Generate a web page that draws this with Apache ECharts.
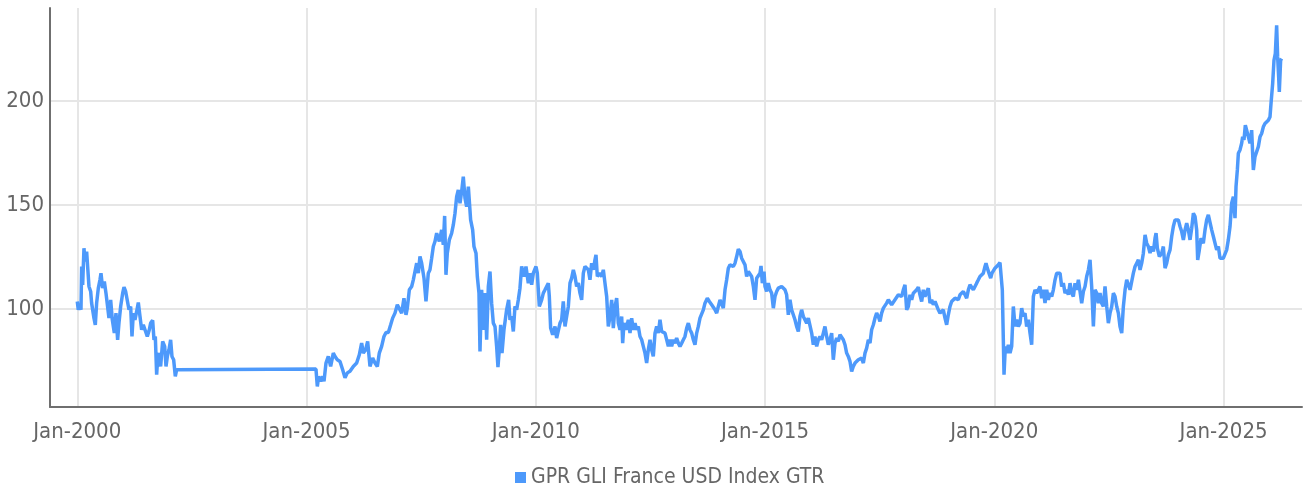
<!DOCTYPE html>
<html>
<head>
<meta charset="utf-8">
<script src="https://cdn.jsdelivr.net/npm/echarts@6/dist/echarts.min.js"></script>
<style>
  html, body { margin: 0; padding: 0; background: #fff; }
  #chart { width: 1304px; height: 493px; }
</style>
</head>
<body>
<div id="chart"></div>
<script>
// 数据：日期用小数年表示，数值为指数点位
const seriesName = 'GPR GLI France USD Index GTR'
const yearTicks = [2000, 2005, 2010, 2015, 2020, 2025]
const valueTicks = [100, 150, 200]

const dates = [
  2000.000, 2000.022, 2000.059, 2000.081, 2000.095, 2000.117, 2000.146, 2000.168, 2000.204, 2000.241,
  2000.255, 2000.292, 2000.313, 2000.364, 2000.393, 2000.422, 2000.459, 2000.495, 2000.517, 2000.553,
  2000.590, 2000.626, 2000.655, 2000.691, 2000.728, 2000.764, 2000.808, 2000.844, 2000.880, 2000.909,
  2000.946, 2000.990, 2001.019, 2001.055, 2001.091, 2001.128, 2001.164, 2001.193, 2001.222, 2001.258,
  2001.295, 2001.331, 2001.368, 2001.404, 2001.440, 2001.477, 2001.527, 2001.571, 2001.600, 2001.644,
  2001.673, 2001.702, 2001.731, 2001.760, 2001.789, 2001.818, 2001.862, 2001.906, 2001.935, 2001.964,
  2002.000, 2002.036, 2002.065, 2002.102, 2002.138, 2002.167, 2002.203, 2005.206, 2005.235, 2005.264,
  2005.308, 2005.352, 2005.381, 2005.424, 2005.475, 2005.526, 2005.584, 2005.621, 2005.671, 2005.730,
  2005.788, 2005.839, 2005.889, 2005.948, 2006.020, 2006.093, 2006.151, 2006.202, 2006.238, 2006.289,
  2006.333, 2006.384, 2006.442, 2006.493, 2006.544, 2006.587, 2006.638, 2006.689, 2006.733, 2006.784,
  2006.835, 2006.878, 2006.929, 2006.980, 2007.023, 2007.075, 2007.125, 2007.169, 2007.198, 2007.242,
  2007.293, 2007.329, 2007.365, 2007.402, 2007.438, 2007.474, 2007.511, 2007.562, 2007.605, 2007.656,
  2007.692, 2007.729, 2007.765, 2007.801, 2007.838, 2007.896, 2007.947, 2007.983, 2008.012, 2008.041,
  2008.070, 2008.114, 2008.165, 2008.201, 2008.238, 2008.274, 2008.310, 2008.347, 2008.383, 2008.419,
  2008.456, 2008.492, 2008.529, 2008.550, 2008.579, 2008.623, 2008.652, 2008.696, 2008.725, 2008.761,
  2008.783, 2008.819, 2008.841, 2008.870, 2008.899, 2008.928, 2008.965, 2009.001, 2009.037, 2009.074,
  2009.110, 2009.146, 2009.175, 2009.204, 2009.234, 2009.263, 2009.306, 2009.364, 2009.408, 2009.437,
  2009.474, 2009.510, 2009.546, 2009.583, 2009.619, 2009.655, 2009.692, 2009.743, 2009.786, 2009.837,
  2009.873, 2009.910, 2009.946, 2010.004, 2010.033, 2010.077, 2010.128, 2010.164, 2010.201, 2010.237,
  2010.273, 2010.295, 2010.324, 2010.368, 2010.419, 2010.455, 2010.491, 2010.528, 2010.564, 2010.600,
  2010.637, 2010.673, 2010.710, 2010.746, 2010.782, 2010.819, 2010.855, 2010.891, 2010.928, 2010.964,
  2011.000, 2011.037, 2011.073, 2011.109, 2011.146, 2011.182, 2011.218, 2011.255, 2011.291, 2011.313,
  2011.342, 2011.386, 2011.437, 2011.473, 2011.509, 2011.546, 2011.582, 2011.619, 2011.655, 2011.691,
  2011.728, 2011.764, 2011.800, 2011.837, 2011.873, 2011.895, 2011.924, 2011.967, 2012.018, 2012.055,
  2012.091, 2012.127, 2012.164, 2012.200, 2012.236, 2012.273, 2012.309, 2012.345, 2012.382, 2012.418,
  2012.454, 2012.491, 2012.527, 2012.563, 2012.600, 2012.636, 2012.673, 2012.709, 2012.745, 2012.782,
  2012.818, 2012.854, 2012.891, 2012.927, 2012.963, 2013.000, 2013.036, 2013.072, 2013.109, 2013.145,
  2013.182, 2013.218, 2013.254, 2013.291, 2013.327, 2013.363, 2013.400, 2013.436, 2013.472, 2013.509,
  2013.545, 2013.581, 2013.618, 2013.654, 2013.690, 2013.741, 2013.785, 2013.836, 2013.872, 2013.909,
  2013.945, 2013.981, 2014.018, 2014.054, 2014.090, 2014.127, 2014.163, 2014.199, 2014.236, 2014.272,
  2014.308, 2014.345, 2014.381, 2014.417, 2014.454, 2014.490, 2014.527, 2014.563, 2014.599, 2014.635,
  2014.672, 2014.708, 2014.745, 2014.781, 2014.817, 2014.854, 2014.890, 2014.912, 2014.941, 2014.977,
  2014.999, 2015.035, 2015.071, 2015.108, 2015.144, 2015.181, 2015.217, 2015.253, 2015.290, 2015.326,
  2015.362, 2015.399, 2015.435, 2015.471, 2015.508, 2015.544, 2015.580, 2015.617, 2015.653, 2015.689,
  2015.726, 2015.762, 2015.798, 2015.835, 2015.871, 2015.908, 2015.944, 2015.980, 2016.017, 2016.053,
  2016.089, 2016.126, 2016.162, 2016.198, 2016.235, 2016.271, 2016.307, 2016.344, 2016.380, 2016.417,
  2016.453, 2016.489, 2016.526, 2016.562, 2016.598, 2016.635, 2016.671, 2016.707, 2016.744, 2016.780,
  2016.816, 2016.853, 2016.889, 2016.925, 2016.962, 2016.998, 2017.034, 2017.071, 2017.107, 2017.144,
  2017.180, 2017.216, 2017.253, 2017.289, 2017.325, 2017.362, 2017.398, 2017.434, 2017.471, 2017.507,
  2017.543, 2017.580, 2017.616, 2017.652, 2017.689, 2017.725, 2017.761, 2017.798, 2017.834, 2017.871,
  2017.907, 2017.943, 2017.980, 2018.016, 2018.052, 2018.089, 2018.125, 2018.161, 2018.198, 2018.234,
  2018.270, 2018.307, 2018.343, 2018.379, 2018.416, 2018.452, 2018.488, 2018.525, 2018.561, 2018.598,
  2018.634, 2018.670, 2018.707, 2018.743, 2018.779, 2018.816, 2018.852, 2018.888, 2018.925, 2018.961,
  2018.997, 2019.034, 2019.070, 2019.106, 2019.143, 2019.179, 2019.215, 2019.252, 2019.288, 2019.325,
  2019.361, 2019.397, 2019.434, 2019.470, 2019.506, 2019.543, 2019.579, 2019.615, 2019.652, 2019.688,
  2019.724, 2019.761, 2019.797, 2019.819, 2019.848, 2019.884, 2019.921, 2019.950, 2019.979, 2020.015,
  2020.052, 2020.088, 2020.124, 2020.146, 2020.175, 2020.197, 2020.212, 2020.241, 2020.270, 2020.306,
  2020.343, 2020.379, 2020.415, 2020.452, 2020.488, 2020.525, 2020.561, 2020.597, 2020.634, 2020.670,
  2020.706, 2020.743, 2020.779, 2020.815, 2020.852, 2020.888, 2020.925, 2020.961, 2020.997, 2021.034,
  2021.070, 2021.106, 2021.143, 2021.179, 2021.215, 2021.252, 2021.288, 2021.325, 2021.361, 2021.397,
  2021.434, 2021.470, 2021.506, 2021.543, 2021.579, 2021.615, 2021.652, 2021.688, 2021.724, 2021.761,
  2021.797, 2021.834, 2021.870, 2021.906, 2021.943, 2021.979, 2022.015, 2022.052, 2022.088, 2022.124,
  2022.161, 2022.197, 2022.233, 2022.270, 2022.306, 2022.342, 2022.379, 2022.415, 2022.452, 2022.488,
  2022.524, 2022.561, 2022.597, 2022.633, 2022.670, 2022.706, 2022.742, 2022.779, 2022.815, 2022.852,
  2022.888, 2022.924, 2022.961, 2022.997, 2023.033, 2023.070, 2023.106, 2023.142, 2023.179, 2023.215,
  2023.251, 2023.288, 2023.324, 2023.360, 2023.397, 2023.433, 2023.470, 2023.506, 2023.528, 2023.556,
  2023.600, 2023.651, 2023.687, 2023.724, 2023.760, 2023.796, 2023.833, 2023.869, 2023.905, 2023.942,
  2023.978, 2024.014, 2024.051, 2024.087, 2024.124, 2024.160, 2024.196, 2024.233, 2024.269, 2024.305,
  2024.342, 2024.378, 2024.414, 2024.436, 2024.472, 2024.509, 2024.559, 2024.596, 2024.632, 2024.668,
  2024.705, 2024.741, 2024.778, 2024.814, 2024.850, 2024.887, 2024.923, 2024.959, 2024.996, 2025.032,
  2025.068, 2025.104, 2025.141, 2025.177, 2025.214, 2025.250, 2025.272, 2025.301, 2025.323, 2025.359,
  2025.395, 2025.417, 2025.446, 2025.475, 2025.504, 2025.541, 2025.577, 2025.613, 2025.650, 2025.686,
  2025.722, 2025.759, 2025.795, 2025.831, 2025.868, 2025.904, 2025.940, 2025.977, 2026.013, 2026.035,
  2026.071, 2026.100, 2026.129, 2026.158, 2026.180, 2026.202, 2026.216, 2026.245, 2026.267
]

const values = [
  103.7, 99.7, 102.1, 99.7, 120.5, 111.7, 129.3, 122.9, 127.7, 127.7,
  110.9, 108.5, 102.9, 95.7, 92.5, 102.9, 110.1, 114.1, 117.3, 110.1,
  113.3, 107.7, 108.5, 95.7, 104.5, 94.9, 88.5, 98.1, 85.3, 93.3,
  101.3, 107.7, 110.6, 108.5, 109.3, 99.7, 101.3, 86.9, 98.1, 94.9,
  98.9, 103.2, 96.5, 90.1, 92.5, 90.1, 86.9, 90.1, 93.3, 94.6,
  85.3, 86.9, 68.5, 78.9, 77.3, 72.5, 84.5, 82.1, 72.5, 77.3,
  80.5, 85.3, 77.3, 75.7, 67.7, 70.9, 71.2, 71.2, 62.9, 67.7,
  65.3, 67.7, 65.3, 74.1, 77.3, 72.5, 78.9, 77.3, 75.7, 74.9,
  70.9, 67.0, 69.4, 70.2, 72.5, 74.1, 78.1, 83.7, 78.9, 80.5,
  84.5, 72.5, 76.5, 74.1, 72.5, 78.9, 82.1, 86.9, 88.8, 88.8,
  92.5, 95.7, 98.1, 102.1, 101.3, 98.1, 105.3, 97.3, 100.5, 109.3,
  110.9, 114.1, 118.1, 122.1, 117.3, 125.3, 122.1, 114.9, 103.7, 117.3,
  118.9, 124.5, 130.1, 132.5, 136.5, 132.5, 138.1, 130.9, 144.8, 116.5,
  126.9, 133.3, 136.5, 140.5, 146.1, 154.1, 157.3, 150.9, 156.5, 163.7,
  153.3, 149.3, 158.9, 159.7, 142.9, 138.1, 130.1, 126.9, 115.7, 107.7,
  79.7, 109.3, 99.7, 90.1, 107.7, 85.3, 110.9, 118.1, 102.9, 93.3,
  91.7, 82.1, 72.2, 80.5, 92.5, 78.9, 90.1, 99.7, 104.5, 94.9,
  96.5, 89.3, 101.3, 99.7, 104.5, 110.1, 120.5, 115.7, 120.5, 112.5,
  117.3, 111.7, 117.3, 120.5, 117.3, 101.3, 104.5, 107.7, 109.3, 110.9,
  112.5, 106.1, 90.9, 87.7, 91.7, 86.1, 85.3, 93.3, 94.9, 103.7,
  91.7, 96.5, 101.3, 112.5, 114.9, 118.9, 115.7, 110.9, 112.5, 107.7,
  104.5, 117.3, 120.5, 121.3, 118.9, 114.1, 122.1, 118.9, 123.7, 126.1,
  115.7, 117.3, 115.7, 118.9, 112.5, 106.1, 91.7, 96.5, 104.5, 90.9,
  101.3, 105.3, 93.3, 90.1, 96.5, 83.7, 93.3, 90.1, 94.9, 88.5,
  95.7, 90.1, 93.3, 90.1, 91.7, 86.9, 85.3, 82.1, 78.9, 74.1,
  80.5, 85.3, 80.5, 77.3, 88.5, 91.7, 88.5, 94.9, 89.3, 90.1,
  88.5, 89.3, 82.1, 85.3, 82.1, 85.3, 83.7, 86.1, 83.7, 82.1,
  83.7, 85.3, 86.9, 90.9, 93.3, 90.1, 88.5, 85.3, 82.9, 88.5,
  91.7, 95.7, 94.9, 99.7, 102.9, 105.3, 103.7, 102.1, 102.9, 99.7,
  98.1, 101.3, 104.5, 103.7, 100.5, 109.3, 114.1, 119.7, 121.3, 122.1,
  120.5, 122.1, 125.3, 128.8, 127.7, 124.5, 123.7, 121.3, 115.7, 118.1,
  118.9, 115.7, 110.9, 104.5, 114.9, 114.1, 117.3, 120.8, 112.5, 118.1,
  110.9, 108.5, 112.5, 109.3, 107.7, 100.5, 106.1, 108.5, 110.1, 109.3,
  110.9, 110.1, 109.3, 106.9, 97.3, 104.5, 99.7, 100.5, 94.9, 91.7,
  89.3, 96.5, 99.7, 96.5, 95.7, 93.3, 95.7, 94.9, 88.5, 82.9,
  86.9, 82.1, 85.3, 86.9, 85.3, 88.5, 91.7, 86.9, 82.9, 85.3,
  88.5, 75.7, 83.7, 86.1, 84.5, 87.7, 86.9, 85.3, 82.9, 78.9,
  77.3, 74.9, 70.1, 72.5, 74.1, 73.3, 75.7, 74.9, 76.5, 74.1,
  78.9, 81.3, 85.3, 83.7, 90.1, 92.5, 95.7, 98.1, 96.5, 94.1,
  98.1, 100.5, 99.7, 102.9, 104.5, 103.7, 102.1, 102.9, 104.5, 103.7,
  106.9, 107.7, 106.1, 109.3, 111.7, 99.7, 101.3, 106.9, 104.5, 107.7,
  108.5, 109.3, 110.6, 106.9, 103.7, 109.3, 106.1, 105.3, 110.1, 102.9,
  104.5, 102.1, 103.7, 102.9, 99.7, 98.1, 97.3, 99.7, 95.7, 92.5,
  97.3, 101.3, 103.7, 102.9, 105.3, 106.1, 104.5, 106.9, 106.1, 108.5,
  106.9, 105.3, 109.3, 111.7, 112.5, 109.3, 110.9, 112.5, 114.1, 115.7,
  114.9, 117.3, 120.5, 122.1, 119.7, 117.3, 114.9, 117.3, 118.1, 119.7,
  120.5, 121.3, 122.4, 122.1, 109.3, 85.3, 68.5, 82.1, 78.9, 82.9,
  78.9, 82.1, 101.3, 91.7, 94.9, 91.7, 93.3, 100.5, 96.5, 98.1,
  91.7, 94.9, 88.5, 82.9, 106.1, 109.3, 107.7, 109.3, 110.9, 105.3,
  109.3, 102.9, 109.3, 104.5, 107.7, 106.1, 109.3, 114.1, 117.3, 116.5,
  117.3, 110.9, 112.5, 107.7, 109.3, 106.9, 112.5, 107.7, 106.1, 112.5,
  109.3, 114.1, 114.1, 102.9, 108.5, 110.9, 115.7, 118.9, 123.7, 110.9,
  91.7, 109.3, 107.7, 102.9, 107.7, 102.9, 101.3, 110.9, 101.3, 93.3,
  98.1, 101.3, 107.7, 106.1, 101.3, 98.1, 91.7, 88.5, 101.3, 109.3,
  114.1, 114.9, 109.3, 113.3, 117.3, 120.5, 122.1, 123.7, 118.9, 122.1,
  126.9, 135.7, 131.7, 130.1, 126.9, 130.1, 127.7, 134.1, 136.5, 129.3,
  125.3, 126.9, 130.1, 119.7, 122.1, 126.1, 128.5, 134.9, 139.7, 142.9,
  142.1, 142.9, 139.7, 137.3, 133.3, 138.1, 141.3, 138.1, 133.3, 138.9,
  146.1, 144.5, 138.1, 123.7, 128.5, 134.1, 131.7, 138.1, 142.9, 145.3,
  144.5, 138.1, 134.9, 134.1, 128.5, 130.1, 124.5, 123.7, 124.5, 124.5,
  128.5, 133.3, 139.7, 150.9, 154.1, 143.7, 158.9, 166.9, 174.9, 176.5,
  179.7, 182.8, 181.3, 188.4, 186.0, 182.8, 179.7, 186.0, 166.9, 173.3,
  173.3, 178.1, 182.8, 184.4, 187.6, 189.2, 188.4, 190.8, 192.4, 198.8,
  208.4, 219.6, 222.8, 236.4, 221.2, 211.6, 204.4, 219.6, 220.4
]

const seriesData = dates.map((d, i) => [d, values[i]])

const labelFont = "'DejaVu Sans Condensed', sans-serif"
const labelColor = '#666666'
const gridColor = '#e6e6e6'

const option = {
  animation: false,
  textStyle: { fontFamily: labelFont },
  grid: { left: 50, right: 2, top: 8, bottom: 86 },
  legend: {
    left: 515,
    top: 467,
    padding: 0,
    icon: 'rect',
    itemWidth: 11,
    itemHeight: 11,
    itemGap: 4,
    textStyle: { fontSize: 21, color: labelColor, fontFamily: labelFont },
    data: [seriesName]
  },
  // x轴用小数年，刻度只放在每五年的一月
  xAxis: {
    type: 'value',
    min: 1999.405,
    max: 2026.711,
    axisLine: { show: true, lineStyle: { color: '#6f6f6f', width: 2 } },
    axisTick: { show: false, customValues: yearTicks },
    axisLabel: {
      customValues: yearTicks,
      fontSize: 22,
      color: labelColor,
      margin: 14,
      formatter: (v) => 'Jan-' + Math.round(v)
    },
    splitLine: { show: true, lineStyle: { color: gridColor, width: 2 } }
  },
  yAxis: {
    type: 'value',
    min: 53,
    max: 244.7,
    axisLine: { show: true, lineStyle: { color: '#6f6f6f', width: 2 } },
    axisTick: { show: false, customValues: valueTicks },
    axisLabel: { customValues: valueTicks, fontSize: 22, color: labelColor, margin: 6 },
    splitLine: { show: true, lineStyle: { color: gridColor, width: 2 } }
  },
  series: [
    {
      name: seriesName,
      type: 'line',
      data: seriesData,
      showSymbol: false,
      color: '#4d99fb',
      lineStyle: { width: 3.5, color: '#4d99fb' },
      itemStyle: { color: '#4d99fb' }
    }
  ]
}

const chart = echarts.init(document.getElementById('chart'))
chart.setOption(option)
</script>
</body>
</html>
